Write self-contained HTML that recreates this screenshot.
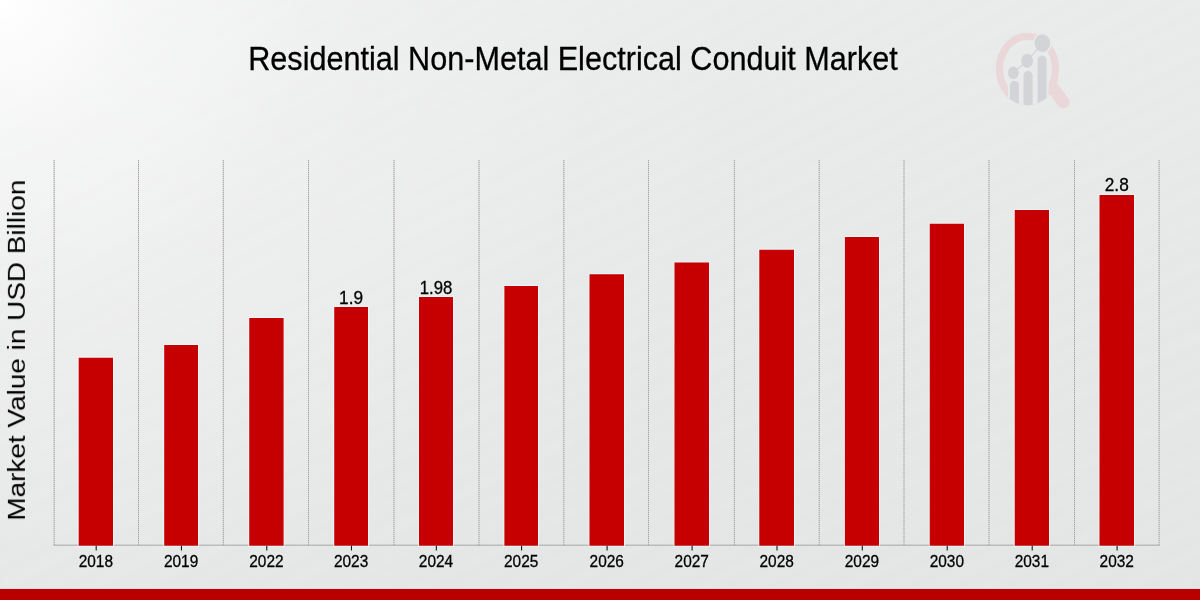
<!DOCTYPE html>
<html><head><meta charset="utf-8"><title>Residential Non-Metal Electrical Conduit Market</title>
<style>
html,body{margin:0;padding:0;width:1200px;height:600px;overflow:hidden;background:#e6e6e6;}
svg{display:block;font-family:"Liberation Sans",sans-serif;}
</style></head><body>
<svg width="1200" height="600" viewBox="0 0 1200 600">
<defs>
<linearGradient id="bg" gradientUnits="userSpaceOnUse" x1="0" y1="0" x2="58" y2="695">
<stop offset="0" stop-color="#eaebeb"/>
<stop offset="1" stop-color="#e3e4e4"/>
</linearGradient>
<radialGradient id="glow" gradientUnits="userSpaceOnUse" cx="0" cy="0" r="800">
<stop offset="0" stop-color="#fff" stop-opacity="1"/>
<stop offset="0.08" stop-color="#fff" stop-opacity="0.78"/>
<stop offset="0.1625" stop-color="#fff" stop-opacity="0.57"/>
<stop offset="0.3875" stop-color="#fff" stop-opacity="0.26"/>
<stop offset="0.77" stop-color="#fff" stop-opacity="0.05"/>
<stop offset="1" stop-color="#fff" stop-opacity="0"/>
</radialGradient>
<linearGradient id="streak" gradientUnits="userSpaceOnUse" x1="0" y1="0" x2="0" y2="64" spreadMethod="repeat" gradientTransform="rotate(-27)">
<stop offset="0" stop-color="#fff" stop-opacity="0"/>
<stop offset="0.18" stop-color="#fff" stop-opacity="0.075"/>
<stop offset="0.3" stop-color="#fff" stop-opacity="0"/>
<stop offset="0.55" stop-color="#fff" stop-opacity="0.05"/>
<stop offset="0.62" stop-color="#fff" stop-opacity="0.0"/>
<stop offset="0.8" stop-color="#fff" stop-opacity="0.05"/>
<stop offset="1" stop-color="#fff" stop-opacity="0"/>
</linearGradient>
<filter id="gs" x="-5%" y="-5%" width="110%" height="110%" color-interpolation-filters="sRGB"><feColorMatrix type="saturate" values="0"/></filter>
<clipPath id="ringclip"><ellipse cx="1027.5" cy="69" rx="31.6" ry="36.2"/></clipPath>
</defs>
<rect x="0" y="0" width="1200" height="600" fill="url(#bg)"/>
<rect x="0" y="0" width="1200" height="600" fill="url(#streak)"/>
<rect x="0" y="0" width="1200" height="600" fill="url(#glow)"/>

<g id="logo">
<ellipse cx="1027.5" cy="69" rx="28" ry="32.6" fill="none" stroke="#e9d7d9" stroke-width="7.2"/>
<line x1="1054" y1="89.5" x2="1063.3" y2="102" stroke="#e9d7d9" stroke-width="12.5" stroke-linecap="round"/>
<g fill="#d3d4d7" stroke="#eaeaea" stroke-width="2" clip-path="url(#ringclip)">
<rect x="1008.6" y="92" width="39.4" height="16" fill="#eaeaea" stroke="none"/>
<rect x="1008.9" y="79.6" width="11" height="36" rx="5.5"/>
<rect x="1022.5" y="70.1" width="11.2" height="46" rx="5.6"/>
<rect x="1036.6" y="54.6" width="11" height="62" rx="5.5"/>
</g>
<g fill="#d3d4d7" stroke="#eaeaea" stroke-width="1.6">
<ellipse cx="1013.4" cy="72.9" rx="6.2" ry="7.2"/>
<ellipse cx="1027.1" cy="60.8" rx="6.7" ry="7.9"/>
<ellipse cx="1042.4" cy="43.1" rx="8.6" ry="9.7"/>
</g>
<g fill="none" stroke="#d3d4d7" stroke-width="1.1">
<line x1="1013.4" y1="72.9" x2="1027.1" y2="60.8"/>
<line x1="1027.1" y1="60.8" x2="1042.4" y2="43.1"/>
</g>
</g>

<g stroke="#cecece" stroke-width="1" fill="none">
<line x1="54.17" y1="160" x2="54.17" y2="545.6"/>
<line x1="138.50" y1="160" x2="138.50" y2="545.6"/>
<line x1="223.30" y1="160" x2="223.30" y2="545.6"/>
<line x1="308.50" y1="160" x2="308.50" y2="545.6"/>
<line x1="394.00" y1="160" x2="394.00" y2="545.6"/>
<line x1="479.00" y1="160" x2="479.00" y2="545.6"/>
<line x1="563.80" y1="160" x2="563.80" y2="545.6"/>
<line x1="648.50" y1="160" x2="648.50" y2="545.6"/>
<line x1="734.40" y1="160" x2="734.40" y2="545.6"/>
<line x1="819.25" y1="160" x2="819.25" y2="545.6"/>
<line x1="904.00" y1="160" x2="904.00" y2="545.6"/>
<line x1="989.00" y1="160" x2="989.00" y2="545.6"/>
<line x1="1074.50" y1="160" x2="1074.50" y2="545.6"/>
<line x1="1159.10" y1="160" x2="1159.10" y2="545.6"/>
</g>
<g stroke="#a6a6a6" stroke-width="1" stroke-dasharray="1,1" fill="none">
<line x1="54.17" y1="160" x2="54.17" y2="545.6"/>
<line x1="138.50" y1="160" x2="138.50" y2="545.6"/>
<line x1="223.30" y1="160" x2="223.30" y2="545.6"/>
<line x1="308.50" y1="160" x2="308.50" y2="545.6"/>
<line x1="394.00" y1="160" x2="394.00" y2="545.6"/>
<line x1="479.00" y1="160" x2="479.00" y2="545.6"/>
<line x1="563.80" y1="160" x2="563.80" y2="545.6"/>
<line x1="648.50" y1="160" x2="648.50" y2="545.6"/>
<line x1="734.40" y1="160" x2="734.40" y2="545.6"/>
<line x1="819.25" y1="160" x2="819.25" y2="545.6"/>
<line x1="904.00" y1="160" x2="904.00" y2="545.6"/>
<line x1="989.00" y1="160" x2="989.00" y2="545.6"/>
<line x1="1074.50" y1="160" x2="1074.50" y2="545.6"/>
<line x1="1159.10" y1="160" x2="1159.10" y2="545.6"/>
</g>
<line x1="53.67" y1="545.17" x2="1159.60" y2="545.17" stroke="#a6a6a6" stroke-width="1"/>
<g fill="none" stroke="#f3fafa" stroke-width="0.9" opacity="0.85">
<rect x="78.25" y="357.30" width="35.20" height="188.82"/>
<rect x="163.75" y="344.55" width="34.70" height="201.57"/>
<rect x="248.80" y="317.55" width="35.25" height="228.57"/>
<rect x="333.80" y="306.55" width="34.65" height="239.57"/>
<rect x="418.55" y="296.55" width="34.90" height="249.57"/>
<rect x="503.95" y="285.55" width="34.50" height="260.57"/>
<rect x="589.05" y="273.80" width="35.40" height="272.32"/>
<rect x="674.05" y="262.05" width="35.40" height="284.07"/>
<rect x="758.85" y="249.30" width="35.60" height="296.82"/>
<rect x="844.45" y="236.55" width="35.00" height="309.57"/>
<rect x="929.30" y="223.30" width="35.15" height="322.82"/>
<rect x="1014.30" y="209.55" width="35.15" height="336.57"/>
<rect x="1099.05" y="194.55" width="35.40" height="351.57"/>
</g>
<g fill="#c60000">
<rect x="78.70" y="357.75" width="34.30" height="187.92"/>
<rect x="164.20" y="345" width="33.80" height="200.67"/>
<rect x="249.25" y="318" width="34.35" height="227.67"/>
<rect x="334.25" y="307" width="33.75" height="238.67"/>
<rect x="419.00" y="297" width="34.00" height="248.67"/>
<rect x="504.40" y="286" width="33.60" height="259.67"/>
<rect x="589.50" y="274.25" width="34.50" height="271.42"/>
<rect x="674.50" y="262.5" width="34.50" height="283.17"/>
<rect x="759.30" y="249.75" width="34.70" height="295.92"/>
<rect x="844.90" y="237" width="34.10" height="308.67"/>
<rect x="929.75" y="223.75" width="34.25" height="321.92"/>
<rect x="1014.75" y="210" width="34.25" height="335.67"/>
<rect x="1099.50" y="195" width="34.50" height="350.67"/>
</g>
<g stroke="#1a1a1a" stroke-width="1.1">
<line x1="96.20" y1="545.67" x2="96.20" y2="550.5"/>
<line x1="181.45" y1="545.67" x2="181.45" y2="550.5"/>
<line x1="266.78" y1="545.67" x2="266.78" y2="550.5"/>
<line x1="351.48" y1="545.67" x2="351.48" y2="550.5"/>
<line x1="436.35" y1="545.67" x2="436.35" y2="550.5"/>
<line x1="521.55" y1="545.67" x2="521.55" y2="550.5"/>
<line x1="607.10" y1="545.67" x2="607.10" y2="550.5"/>
<line x1="692.10" y1="545.67" x2="692.10" y2="550.5"/>
<line x1="777.00" y1="545.67" x2="777.00" y2="550.5"/>
<line x1="862.30" y1="545.67" x2="862.30" y2="550.5"/>
<line x1="947.23" y1="545.67" x2="947.23" y2="550.5"/>
<line x1="1032.22" y1="545.67" x2="1032.22" y2="550.5"/>
<line x1="1117.10" y1="545.67" x2="1117.10" y2="550.5"/>
</g>
<g font-size="16.4" fill="#000" stroke="#000" stroke-width="0.3" text-anchor="middle" filter="url(#gs)">
<text x="95.85" y="567.45" textLength="34.3" lengthAdjust="spacingAndGlyphs">2018</text>
<text x="181.10" y="567.45" textLength="34.3" lengthAdjust="spacingAndGlyphs">2019</text>
<text x="266.43" y="567.45" textLength="34.3" lengthAdjust="spacingAndGlyphs">2022</text>
<text x="351.12" y="567.45" textLength="34.3" lengthAdjust="spacingAndGlyphs">2023</text>
<text x="436.00" y="567.45" textLength="34.3" lengthAdjust="spacingAndGlyphs">2024</text>
<text x="521.20" y="567.45" textLength="34.3" lengthAdjust="spacingAndGlyphs">2025</text>
<text x="606.75" y="567.45" textLength="34.3" lengthAdjust="spacingAndGlyphs">2026</text>
<text x="691.75" y="567.45" textLength="34.3" lengthAdjust="spacingAndGlyphs">2027</text>
<text x="776.65" y="567.45" textLength="34.3" lengthAdjust="spacingAndGlyphs">2028</text>
<text x="861.95" y="567.45" textLength="34.3" lengthAdjust="spacingAndGlyphs">2029</text>
<text x="946.88" y="567.45" textLength="34.3" lengthAdjust="spacingAndGlyphs">2030</text>
<text x="1031.88" y="567.45" textLength="34.3" lengthAdjust="spacingAndGlyphs">2031</text>
<text x="1116.75" y="567.45" textLength="34.3" lengthAdjust="spacingAndGlyphs">2032</text>
</g>
<g font-size="17.7" fill="#000" stroke="#000" stroke-width="0.3" text-anchor="middle" filter="url(#gs)">
<text x="351.12" y="303.6" textLength="24" lengthAdjust="spacingAndGlyphs">1.9</text>
<text x="436.00" y="293.6" textLength="32.6" lengthAdjust="spacingAndGlyphs">1.98</text>
<text x="1116.75" y="190.6" textLength="24" lengthAdjust="spacingAndGlyphs">2.8</text>
</g>
<text x="573.0" y="70.4" font-size="33.4" fill="#000" stroke="#000" stroke-width="0.3" filter="url(#gs)" text-anchor="middle" textLength="649.5" lengthAdjust="spacingAndGlyphs">Residential Non-Metal Electrical Conduit Market</text>
<text transform="translate(24.9,350.2) rotate(-90)" font-size="24.7" fill="#000" filter="url(#gs)" text-anchor="middle" textLength="341" lengthAdjust="spacingAndGlyphs">Market Value in USD Billion</text>
<rect x="0" y="588" width="1200" height="1" fill="#f6f8f8" opacity="0.8"/>
<rect x="0" y="588.9" width="1200" height="11.1" fill="#b90000"/>
</svg></body></html>
